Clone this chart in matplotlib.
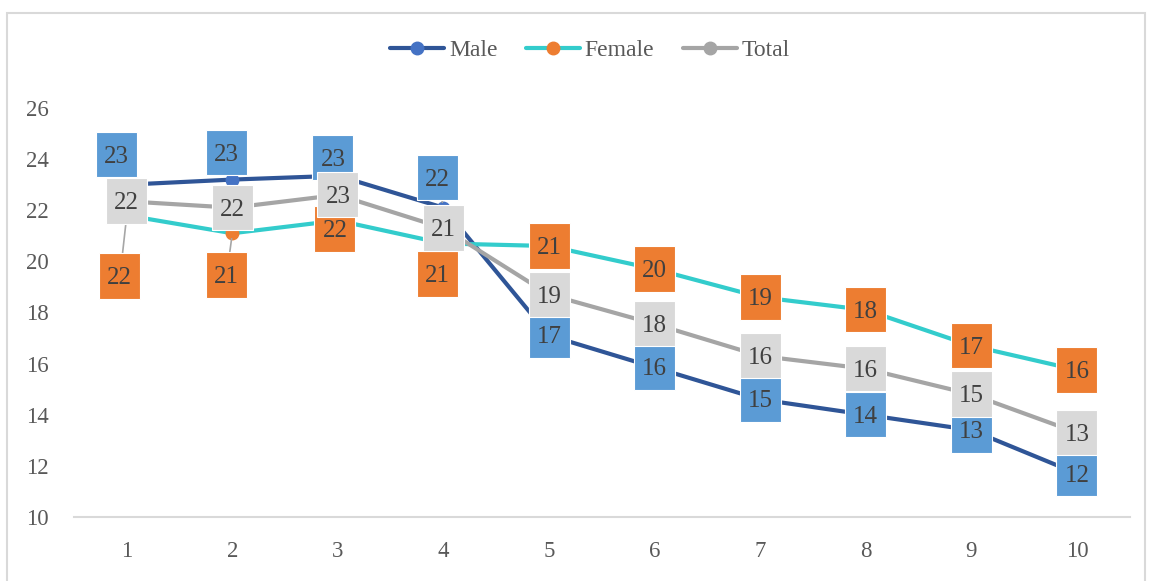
import matplotlib
matplotlib.use('Agg')
import matplotlib.pyplot as plt
from matplotlib.patches import Rectangle
from matplotlib.path import Path

# Datos por grupo
grupos = [1, 2, 3, 4, 5, 6, 7, 8, 9, 10]
male = [23.0, 23.2, 23.35, 22.1, 17.1, 15.85, 14.6, 14.0, 13.4, 11.7]
female = [21.8, 21.1, 21.6, 20.7, 20.6, 19.7, 18.6, 18.1, 16.7, 15.75]
total = [22.35, 22.1, 22.6, 21.3, 18.7, 17.55, 16.3, 15.8, 14.8, 13.3]
y_ticks = [10, 12, 14, 16, 18, 20, 22, 24, 26]

# Estilo de cada serie: color de línea, marcador y etiqueta
series = [
    ('Male', male, '#2F5597', '#4472C4', '#5B9BD5', 5),
    ('Female', female, '#33CCCC', '#ED7D31', '#ED7D31', 6),
    ('Total', total, '#A5A5A5', '#A5A5A5', '#D9D9D9', 7),
]

# Etiquetas desplazadas a mano (en píxeles) y las que llevan línea guía
desplazamientos = {
    'Male': {0: (-10, 30), 1: (-6, 27), 2: (-5, 18), 3: (-6, 30)},
    'Female': {0: (-7, -61), 1: (-6, -42), 2: (-3, -9), 3: (-6, -31)},
    'Total': {},
}
guias = {'Male': [3], 'Female': [0, 1], 'Total': []}


def caja(x0, y0, width, height, mutation_size):
    """
    Caja rectangular con margen horizontal y vertical distinto,
    algo subida para centrar los dígitos
    """
    px = 0.32 * mutation_size
    py = 0.47 * mutation_size
    sube = 0.09 * mutation_size
    x1, y1 = x0 + width + px, y0 + height + py + sube
    x0, y0 = x0 - px, y0 - py + sube
    return Path([(x0, y0), (x1, y0), (x1, y1), (x0, y1), (x0, y0)],
                closed=True)


plt.rcParams['font.family'] = ['Liberation Serif', 'DejaVu Serif']

fig = plt.figure(figsize=(11.54, 5.81), dpi=100)
ax = fig.add_axes([0.0641, 0.1102, 0.9149, 0.7039])

for nombre, valores, c_linea, c_marca, c_caja, z in series:
    ax.plot(grupos, valores, color=c_linea, lw=3, marker='o', markersize=9,
            markerfacecolor=c_marca, markeredgecolor=c_marca,
            solid_capstyle='round', label=nombre, zorder=2)

    # Etiquetas de datos en cajas
    for i, (x, v) in enumerate(zip(grupos, valores)):
        dx, dy = desplazamientos[nombre].get(i, (0, 0))
        flecha = None
        if i in guias[nombre]:
            flecha = dict(arrowstyle='-', color='#A6A6A6', lw=1.2,
                          shrinkA=0, shrinkB=4)
        ax.annotate('{:.0f}'.format(v), xy=(x, v), xytext=(dx, dy - 2),
                    textcoords='offset pixels', ha='center', va='center',
                    fontsize=18, color='#404040', zorder=z,
                    annotation_clip=False, arrowprops=flecha,
                    bbox=dict(boxstyle=caja, facecolor=c_caja,
                              edgecolor='white', lw=0.8))

# Ejes
ax.set_xlim(0.5, 10.5)
ax.set_ylim(10, 26)
ax.set_xticks(grupos)
ax.set_yticks(y_ticks)
ax.tick_params(axis='both', length=0, labelsize=16.5, colors='#595959')
ax.tick_params(axis='y', pad=18)
ax.tick_params(axis='x', pad=17)
for lado in ['top', 'right', 'left']:
    ax.spines[lado].set_visible(False)
ax.spines['bottom'].set_color('#D9D9D9')
ax.spines['bottom'].set_linewidth(1.5)

# Leyenda
fig.legend(loc='center', bbox_to_anchor=(590 / 1154, 1 - 50 / 581), ncol=3,
           frameon=False, fontsize=17, handlelength=2.3, handletextpad=0.2,
           columnspacing=1.2, labelcolor='#595959')

# Marco exterior
fig.add_artist(Rectangle((0.006, -0.01), 0.986, 0.9876,
                         transform=fig.transFigure, fill=False,
                         edgecolor='#D9D9D9', lw=1.5))

fig.savefig('out.png', dpi=100)
